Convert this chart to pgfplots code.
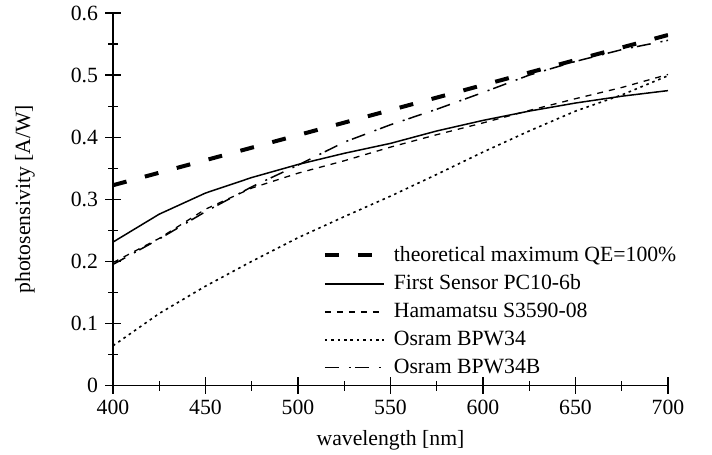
\documentclass[border=0pt]{standalone}
\usepackage{fontspec}
\setmainfont{Liberation Serif}
\usepackage{pgfplots}
\pgfplotsset{compat=1.18}
\begin{document}
\begin{tikzpicture}
\path[use as bounding box] (0,0) rectangle (356bp,227.5bp);
\begin{axis}[
  at={(56.5bp,34.75bp)}, anchor=south west,
  scale only axis, width=277.5bp, height=186.25bp,
  xmin=400, xmax=700, ymin=0, ymax=0.6,
  axis x line=bottom, axis y line=left,
  axis line style={-, line width=0.6pt},
  xtick={400,450,500,550,600,650,700},
  ytick={0,0.1,0.2,0.3,0.4,0.5,0.6},
  minor x tick num=1, minor y tick num=1,
  tick align=center, major tick length=8bp, minor tick length=5bp,
  every tick/.style={line width=0.6pt, black},
  font=\fontsize{10.9}{13}\selectfont,
  /pgf/number format/assume math mode=true,
  yticklabel style={/pgf/number format/fixed, /pgf/number format/precision=1},
  xlabel={wavelength [nm]},
  ylabel={photosensivity [A/W]},
  xlabel style={yshift=-1bp},
  ylabel style={at={(axis description cs:-0.128,0.5)}, anchor=south},
  legend cell align=left,
  legend image code/.code={\draw[#1] (0bp,0bp) -- (29.5bp,0bp);},
  legend style={draw=none, fill=none, at={(axis cs:510,0.2376)}, anchor=north west,
    font=\fontsize{10.9}{13}\selectfont, row sep=1.2bp,
    /tikz/every odd column/.append style={column sep=2bp}},
]
\addplot[black, line width=2bp, dash pattern=on 7bp off 9.5bp] coordinates {(400,0.3226) (700,0.5646)};
\addlegendentry{theoretical maximum QE=100\%}
\addplot[black, line width=0.75bp] coordinates {
(400,0.231) (425,0.276) (450,0.310) (475,0.335) (500,0.356) (525,0.374) (550,0.390)
(575,0.410) (600,0.427) (625,0.442) (650,0.455) (675,0.466) (700,0.475)};
\addlegendentry{First Sensor PC10-6b}
\addplot[black, line width=0.65bp, dash pattern=on 3bp off 3bp] coordinates {
(400,0.198) (425,0.237) (450,0.284) (475,0.318) (500,0.342) (525,0.362) (550,0.384)
(575,0.404) (600,0.423) (625,0.443) (650,0.462) (675,0.480) (700,0.501)};
\addlegendentry{Hamamatsu S3590-08}
\addplot[black, line width=0.8bp, dash pattern=on 1.3bp off 1.9bp] coordinates {
(400,0.064) (425,0.116) (450,0.160) (475,0.200) (500,0.238) (525,0.272) (550,0.305)
(575,0.340) (600,0.376) (625,0.410) (650,0.442) (675,0.468) (700,0.499)};
\addlegendentry{Osram BPW34}
\addplot[black, line width=0.75bp, dash pattern=on 7bp off 5bp on 1bp off 2bp] coordinates {
(400,0.195) (425,0.236) (450,0.280) (475,0.320) (500,0.355) (525,0.392) (550,0.420)
(575,0.445) (600,0.472) (625,0.500) (650,0.522) (675,0.541) (700,0.556)};
\addlegendentry{Osram BPW34B}
\end{axis}
\end{tikzpicture}
\end{document}
